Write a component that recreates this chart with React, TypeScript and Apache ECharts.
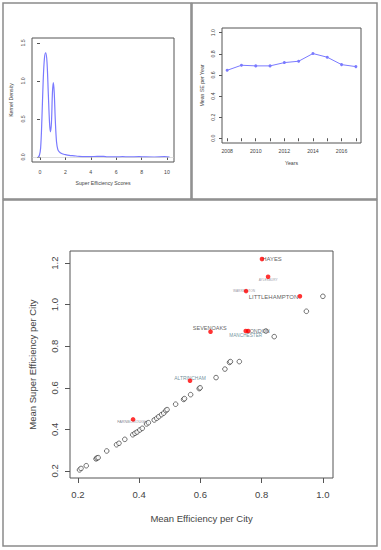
import React, { useEffect, useRef } from "react";
import * as echarts from "echarts";

// ---------- data ----------
const densityX = [-0.15, -0.05, 0.05, 0.15, 0.25, 0.35, 0.45, 0.55, 0.65, 0.75, 0.82, 0.9, 0.98, 1.05, 1.12, 1.2, 1.3, 1.4, 1.5, 1.7, 2.0, 2.3, 2.7, 3.0, 3.5, 4.0, 4.5, 5.0, 5.3, 6.0, 6.5, 7.0, 7.8, 8.3, 9.0, 9.8, 10.2];
const densityY = [0.0, 0.02, 0.12, 0.5, 1.0, 1.3, 1.37, 1.25, 0.85, 0.45, 0.33, 0.45, 0.85, 0.98, 0.85, 0.5, 0.2, 0.1, 0.07, 0.045, 0.03, 0.02, 0.015, 0.01, 0.006, 0.006, 0.007, 0.007, 0.002, 0.001, 0.004, 0.001, 0.004, 0.001, 0.0, 0.004, 0.0];
const densityXTicks = [0, 2, 4, 6, 8, 10];
const densityYTicks = [0, 0.5, 1.0, 1.5];

const years = [2008, 2009, 2010, 2011, 2012, 2013, 2014, 2015, 2016, 2017];
const meanSEPerYear = [0.644, 0.692, 0.686, 0.686, 0.717, 0.73, 0.803, 0.768, 0.698, 0.679];
const yearLabelTicks = [2008, 2010, 2012, 2014, 2016];
const seYearTicks = [0, 0.2, 0.4, 0.6, 0.8, 1.0];

const effX = [0.205, 0.21, 0.227, 0.259, 0.262, 0.266, 0.294, 0.326, 0.334, 0.353, 0.379, 0.386, 0.393, 0.402, 0.41, 0.424, 0.43, 0.449, 0.457, 0.464, 0.473, 0.48, 0.487, 0.491, 0.519, 0.545, 0.548, 0.568, 0.596, 0.599, 0.651, 0.68, 0.695, 0.698, 0.727, 0.814, 0.841, 0.946, 1.0];
const effY = [0.205, 0.212, 0.225, 0.258, 0.262, 0.264, 0.296, 0.326, 0.333, 0.352, 0.374, 0.381, 0.387, 0.397, 0.405, 0.426, 0.432, 0.445, 0.453, 0.461, 0.471, 0.478, 0.49, 0.495, 0.521, 0.544, 0.548, 0.567, 0.596, 0.6, 0.649, 0.69, 0.722, 0.726, 0.726, 0.873, 0.846, 0.968, 1.04];

const cityNames = ["HAYES", "AYLESBURY", "WARRINGTON", "LITTLEHAMPTON", "SEVENOAKS", "LONDON", "MANCHESTER", "ALTRINCHAM", "FARNBOROUGH"];
const cityEff = [0.801, 0.821, 0.749, 0.925, 0.633, 0.756, 0.748, 0.566, 0.38];
const citySE = [1.219, 1.134, 1.065, 1.04, 0.87, 0.873, 0.873, 0.634, 0.448];

const effTicks = [0.2, 0.4, 0.6, 0.8, 1.0];
const seCityTicks = [0.2, 0.4, 0.6, 0.8, 1.0, 1.2];

// ---------- styles ----------
const FONT = "'Liberation Sans', Arial, sans-serif";
const BLUE = "#7a7aff";
const BOX = "#555";
const TXT = "#444";

const labelStyle: Record<string, { offset: [number, number]; size: number; color: string }> = {
  HAYES: { offset: [10, 0], size: 5.9, color: "#333" },
  AYLESBURY: { offset: [0, 2.6], size: 3.2, color: "#778" },
  WARRINGTON: { offset: [-2, -0.6], size: 3.2, color: "#778" },
  LITTLEHAMPTON: { offset: [-26.5, 0.4], size: 6, color: "#333" },
  SEVENOAKS: { offset: [-0.7, -3.7], size: 5.5, color: "#333" },
  LONDON: { offset: [10, 0], size: 5.4, color: "#3a4a55" },
  MANCHESTER: { offset: [0, 4], size: 4.7, color: "#4a7482" },
  ALTRINCHAM: { offset: [0, -2.4], size: 4.9, color: "#4a7482" },
  FARNBOROUGH: { offset: [-1, 2.3], size: 3.8, color: "#667" },
};

function xAxisCfg(gridIndex: number, min: number, max: number, ticks: number[], labels: number[], fmt: (v: number) => string, fs: number, margin: number, name: string, nameGap: number, tickLen: number) {
  return {
    type: "value",
    gridIndex,
    min,
    max,
    axisLine: { show: false },
    splitLine: { show: false },
    axisTick: { show: true, customValues: ticks, length: tickLen, lineStyle: { color: BOX, width: 1 } },
    axisLabel: { show: true, customValues: labels, formatter: (v: number) => fmt(v), fontSize: fs, margin, color: TXT, fontFamily: FONT },
    name,
    nameLocation: "middle",
    nameGap,
    nameTextStyle: { fontSize: fs, color: TXT, fontFamily: FONT },
  };
}

function yAxisCfg(gridIndex: number, min: number, max: number, ticks: number[], fmt: (v: number) => string, fs: number, margin: number, name: string, nameGap: number, tickLen: number) {
  return {
    type: "value",
    gridIndex,
    min,
    max,
    axisLine: { show: false },
    splitLine: { show: false },
    axisTick: { show: true, customValues: ticks, length: tickLen, lineStyle: { color: BOX, width: 1 } },
    axisLabel: { show: true, customValues: ticks, formatter: (v: number) => fmt(v), fontSize: fs, margin, rotate: 90, color: TXT, fontFamily: FONT },
    name,
    nameLocation: "middle",
    nameGap,
    nameRotate: 90,
    nameTextStyle: { fontSize: fs, color: TXT, fontFamily: FONT },
  };
}

export default function App() {
  const ref = useRef<HTMLDivElement>(null);
  useEffect(() => {
    if (!ref.current) return;
    const chart = echarts.init(ref.current, undefined, { renderer: "svg" });
    const densityData = densityX.map((x, i) => [x, densityY[i]]);
    const yearData = years.map((y, i) => [y, meanSEPerYear[i]]);
    const effData = effX.map((x, i) => [x, effY[i]]);
    const cityData = cityNames.map((n, i) => ({ name: n, value: [cityEff[i], citySE[i]] }));
    const cityLabelData = cityNames.map((n, i) => {
      const s = labelStyle[n];
      return {
        name: n,
        value: [cityEff[i], citySE[i]],
        label: { show: true, formatter: n, position: "inside", offset: s.offset, fontSize: s.size, color: s.color, fontFamily: FONT },
      };
    });

    const option: any = {
      animation: false,
      backgroundColor: "#fff",
      textStyle: { fontFamily: FONT },
      graphic: [
        { type: "rect", shape: { x: 3, y: 3, width: 188, height: 196 }, style: { fill: "none", stroke: "#8a8a8a", lineWidth: 1.5 }, silent: true },
        { type: "rect", shape: { x: 192, y: 3, width: 185, height: 196 }, style: { fill: "none", stroke: "#8a8a8a", lineWidth: 1.5 }, silent: true },
        { type: "rect", shape: { x: 3, y: 200, width: 374, height: 346 }, style: { fill: "none", stroke: "#8a8a8a", lineWidth: 1.5 }, silent: true },
      ],
      grid: [
        { left: 32, top: 38, width: 142, height: 124, show: true, borderColor: BOX, borderWidth: 1, backgroundColor: "transparent", containLabel: false },
        { left: 222, top: 28, width: 139, height: 115, show: true, borderColor: BOX, borderWidth: 1, backgroundColor: "transparent", containLabel: false },
        { left: 70, top: 251, width: 263, height: 227, show: true, borderColor: BOX, borderWidth: 1, backgroundColor: "transparent", containLabel: false },
      ],
      xAxis: [
        xAxisCfg(0, -0.63, 10.55, densityXTicks, densityXTicks, (v) => String(v), 5.2, 7, "Super Efficiency Scores", 18, 3),
        xAxisCfg(1, 2007.64, 2017.36, years, yearLabelTicks, (v) => String(v), 5.2, 5.5, "Years", 17, 3),
        xAxisCfg(2, 0.174, 1.033, effTicks, effTicks, (v) => v.toFixed(1), 9.5, 11, "Mean Efficiency per City", 35, 5),
      ],
      yAxis: [
        yAxisCfg(0, -0.066, 1.566, densityYTicks, (v) => v.toFixed(1), 5.2, 6.5, "Kernel Density", 19, 3),
        yAxisCfg(1, -0.045, 1.045, seYearTicks, (v) => v.toFixed(1), 5.2, 6.5, "Mean SE per Year", 18, 3),
        yAxisCfg(2, 0.166, 1.258, seCityTicks, (v) => v.toFixed(1), 9.5, 11, "Mean Super Efficiency per City", 33, 5),
      ],
      series: [
        {
          type: "line",
          xAxisIndex: 0,
          yAxisIndex: 0,
          data: densityData,
          smooth: 0.35,
          showSymbol: false,
          lineStyle: { color: BLUE, width: 1.2 },
          markLine: {
            silent: true,
            symbol: "none",
            label: { show: false },
            lineStyle: { color: "#c8c8c8", width: 0.6, type: "solid" },
            data: [{ yAxis: 0 }],
          },
          z: 3,
        },
        {
          type: "line",
          xAxisIndex: 1,
          yAxisIndex: 1,
          data: yearData,
          symbol: "circle",
          symbolSize: 3,
          itemStyle: { color: BLUE },
          lineStyle: { color: BLUE, width: 1 },
        },
        {
          type: "scatter",
          xAxisIndex: 2,
          yAxisIndex: 2,
          data: effData,
          symbol: "circle",
          symbolSize: 4.6,
          itemStyle: { color: "#fff", borderColor: "#222", borderWidth: 0.8 },
          z: 2,
        },
        {
          type: "scatter",
          xAxisIndex: 2,
          yAxisIndex: 2,
          data: cityLabelData,
          symbolSize: 0.01,
          itemStyle: { color: "transparent" },
          z: 3,
        },
        {
          type: "scatter",
          xAxisIndex: 2,
          yAxisIndex: 2,
          data: cityData,
          symbol: "circle",
          symbolSize: 4.6,
          itemStyle: { color: "#ff0000" },
          z: 4,
        },
      ],
    };
    chart.setOption(option);
    return () => chart.dispose();
  }, []);
  return <div ref={ref} style={{ position: "absolute", left: 0, top: 0, width: 381, height: 550, background: "#fff" }} />;
}
